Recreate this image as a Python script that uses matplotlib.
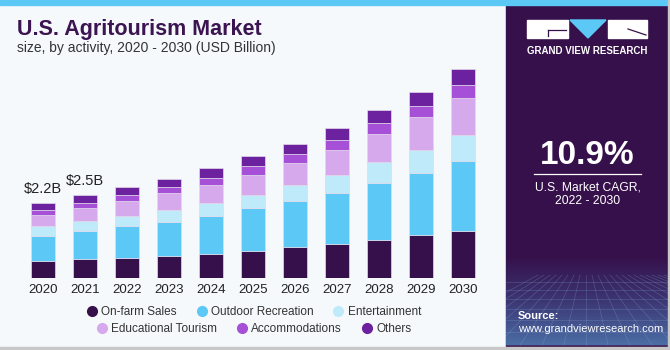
import numpy as np
import matplotlib
matplotlib.use('Agg')
import matplotlib.pyplot as plt
from matplotlib.patches import Rectangle, Polygon
from matplotlib.lines import Line2D

plt.rcParams['font.family'] = ['Liberation Sans', 'DejaVu Sans']

# Data (USD Billion)
years = ['2020', '2021', '2022', '2023', '2024', '2025', '2026', '2027', '2028', '2029', '2030']
on_farm = [0.50, 0.57, 0.60, 0.66, 0.72, 0.80, 0.91, 1.02, 1.13, 1.27, 1.41]
outdoor = [0.76, 0.84, 0.95, 1.02, 1.14, 1.27, 1.37, 1.51, 1.69, 1.85, 2.06]
entertainment = [0.28, 0.28, 0.31, 0.35, 0.37, 0.41, 0.49, 0.54, 0.62, 0.69, 0.80]
educational = [0.33, 0.38, 0.42, 0.49, 0.54, 0.60, 0.66, 0.75, 0.84, 0.99, 1.09]
accommodations = [0.14, 0.15, 0.19, 0.19, 0.22, 0.25, 0.26, 0.28, 0.32, 0.32, 0.39]
others = [0.21, 0.25, 0.24, 0.24, 0.27, 0.29, 0.31, 0.36, 0.40, 0.42, 0.47]
series_names = ['On-farm Sales', 'Outdoor Recreation', 'Entertainment',
                'Educational Tourism', 'Accommodations', 'Others']
value_labels = {0: '$2.2B', 1: '$2.5B'}

COLORS = ['#36104A', '#5BC8F5', '#BEEAFA', '#D6A8EC', '#A650D8', '#6C219E']
BG = '#F5F9FC'
PANEL = '#36104A'

W, H = 670, 350
fig = plt.figure(figsize=(W / 100, H / 100), dpi=100)
fig.patch.set_facecolor(BG)

def fx(px):
    return px / W

def fy(py):
    return 1 - py / H

# main chart axes
ax_left, ax_right, ax_top, ax_base = 21.7, 484.0, 60.0, 278.0
ax = fig.add_axes([fx(ax_left), fy(ax_base), fx(ax_right - ax_left), (ax_base - ax_top) / H])
ax.set_facecolor('none')
px_per_b = 33.6
ax.set_ylim(0, (ax_base - ax_top) / px_per_b)
ax.set_xlim(-0.5, len(years) - 0.5)

x = np.arange(len(years))
data = [on_farm, outdoor, entertainment, educational, accommodations, others]
bottom = np.zeros(len(years))
for vals, col, name in zip(data, COLORS, series_names):
    ax.bar(x, vals, width=0.58, bottom=bottom, color=col, edgecolor='#E2DAEA',
           linewidth=0.5, label=name, zorder=2)
    bottom += np.array(vals)

for i, lab in value_labels.items():
    ax.text(x[i], bottom[i] + 0.22, lab, ha='center', va='bottom', fontsize=10.5,
            color='#222222')

ax.set_xticks(x)
ax.set_xticklabels(years, fontsize=9.5, color='#222222')
ax.tick_params(axis='x', length=0, pad=4)
ax.set_yticks([])
for s in ax.spines.values():
    s.set_visible(False)

# titles
fig.text(fx(17), fy(29), 'U.S. Agritourism Market', fontsize=15.5, fontweight='bold',
         color='#3B1451', va='center', ha='left')
fig.text(fx(17), fy(48), 'size, by activity, 2020 - 2030 (USD Billion)', fontsize=10,
         color='#333333', va='center', ha='left')

# legend rows
handles = [Line2D([], [], marker='o', linestyle='none', markersize=7,
                  markerfacecolor=c, markeredgecolor=c) for c in COLORS]
for row, ypx in ((0, 312), (1, 329)):
    leg = fig.legend(handles[row * 3:row * 3 + 3], series_names[row * 3:row * 3 + 3],
                     loc='center', bbox_to_anchor=(fx(253), fy(ypx)), ncol=3,
                     frameon=False, fontsize=8.5, handletextpad=0.2,
                     columnspacing=1.5, handlelength=1.2, borderpad=0)
    for t in leg.get_texts():
        t.set_color('#333333')

# right panel
over = fig.add_axes([0, 0, 1, 1], zorder=5)
over.axis('off')
over.patch.set_alpha(0)

p_left, p_right = 505.5, 667.5
panel = Rectangle((p_left, 0), p_right - p_left, H, color=PANEL, zorder=1)
over.add_patch(panel)
# bottom gradient of panel
grad = np.linspace(0, 1, 100)[:, None]
cmap = matplotlib.colors.LinearSegmentedColormap.from_list('g', [PANEL, '#3D3A78', '#4E78B0'])
over.imshow(grad, extent=(p_left, p_right, 345, 255), cmap=cmap, aspect='auto', zorder=2,
            alpha=0.9)
# faint grid lines, kept inside the panel
for k in range(-8, 20):
    ln, = over.plot([586 + k * 6, 586 + k * 22], [275, 345], color='#8FB6DA', lw=0.4,
                    alpha=0.35, zorder=3)
    ln.set_clip_path(panel)
for yy in [282, 290, 299, 309, 320, 332, 345]:
    over.plot([p_left, p_right], [yy, yy], color='#8FB6DA', lw=0.4, alpha=0.35, zorder=3)
over.set_xlim(0, W)
over.set_ylim(H, 0)

# logo
over.add_patch(Rectangle((527, 20), 41, 18, color='white', zorder=4))
over.plot([548, 566], [29.5, 29.5], color=PANEL, lw=0.9, zorder=5)
over.plot([548, 548], [29.5, 36], color=PANEL, lw=0.9, zorder=5)
over.add_patch(Polygon([[570, 20], [606, 20], [588, 38]], closed=True,
                       color='#5BC8F5', zorder=4))
over.add_patch(Rectangle((608, 20), 39, 18, color='white', zorder=4))
over.plot([628, 646], [29, 35], color=PANEL, lw=0.9, zorder=5)
over.text(587, 50.5, 'GRAND VIEW RESEARCH', color='white', fontsize=7, fontweight='bold',
          ha='center', va='center', zorder=6)

over.text(587.5, 156, '10.9%', color='white', fontsize=24, fontweight='bold',
          ha='center', va='center', zorder=6)
over.plot([534, 641], [173.5, 173.5], color='white', lw=0.9, zorder=6)
over.text(587.5, 187, 'U.S. Market CAGR,', color='white', fontsize=8.7,
          ha='center', va='center', zorder=6)
over.text(587.5, 201.5, '2022 - 2030', color='white', fontsize=8.7,
          ha='center', va='center', zorder=6)

over.text(518, 316, 'Source:', color='white', fontsize=8, fontweight='bold',
          ha='left', va='center', zorder=6)
over.text(518, 329.5, 'www.grandviewresearch.com', color='white', fontsize=8,
          ha='left', va='center', zorder=6)

# frame strips
over.add_patch(Rectangle((0, 0), W, 5, color='#5BC8F5', zorder=7))
over.add_patch(Rectangle((667.5, 0), 2.5, H, color='#C8C8C8', zorder=7))
over.add_patch(Rectangle((0, 347), W, 3, color='#C8C8C8', zorder=7))

fig.savefig('out.png', dpi=100, facecolor=BG)
